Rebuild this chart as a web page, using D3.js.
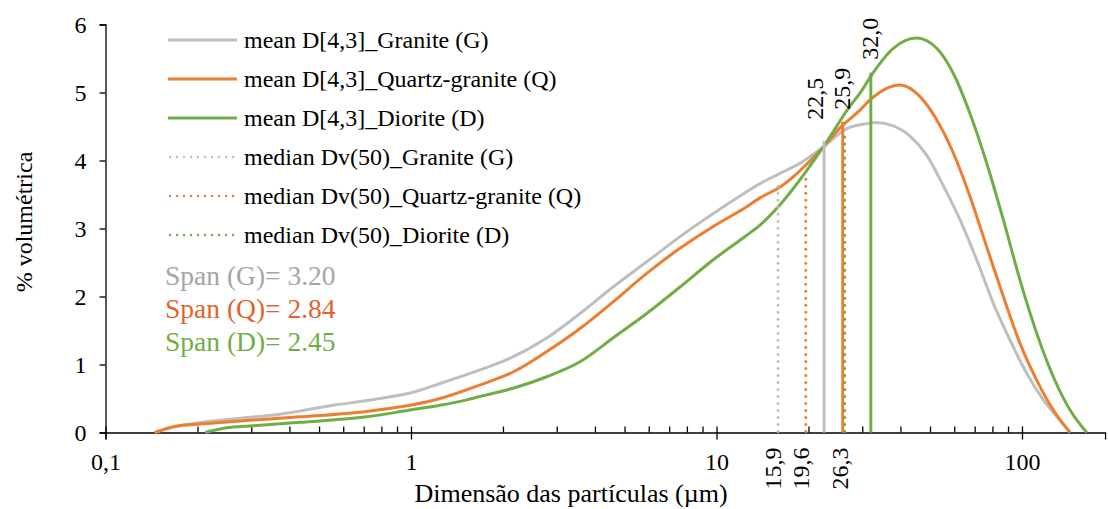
<!DOCTYPE html>
<html>
<head>
<meta charset="utf-8">
<script src="https://cdn.jsdelivr.net/npm/d3@7"></script>
<style>
  body { margin: 0; background: #fff; }
  svg { display: block; font-family: "Liberation Serif", "Times New Roman", serif; }
</style>
</head>
<body>
<svg id="chart" width="1108" height="509"></svg>
<script>
// Particle size distributions: size (µm) and volume %, one pair of arrays per rock
const sizesG = [0.145, 0.171, 0.199, 0.276, 0.373, 0.556, 0.792, 0.992, 1.244, 1.682, 2.058, 2.782, 3.575, 4.584, 5.909, 7.595, 9.76, 12.56, 13.88, 16.14, 18.76, 22.37, 26.7, 31.02, 33.02, 37.91, 42.99, 48.75, 55.26, 62.66, 71.06, 80.56, 91.34, 103.6, 117.4, 133.1, 143.6];
const valuesG = [0, 0.09, 0.14, 0.21, 0.27, 0.40, 0.50, 0.58, 0.72, 0.92, 1.07, 1.39, 1.75, 2.14, 2.51, 2.88, 3.22, 3.54, 3.66, 3.81, 3.96, 4.20, 4.47, 4.54, 4.56, 4.51, 4.36, 4.08, 3.63, 3.13, 2.54, 1.90, 1.36, 0.87, 0.48, 0.18, 0];

const sizesQ = [0.145, 0.171, 0.199, 0.276, 0.433, 0.716, 0.992, 1.244, 1.682, 2.158, 2.782, 3.575, 4.584, 5.909, 7.595, 9.76, 12.56, 13.88, 16.14, 22.37, 25.37, 29.49, 31.80, 39.87, 46.36, 52.58, 59.60, 67.57, 76.64, 86.87, 98.51, 111.7, 126.6, 143.6];
const valuesQ = [0, 0.095, 0.12, 0.17, 0.23, 0.31, 0.40, 0.50, 0.70, 0.89, 1.19, 1.53, 1.92, 2.34, 2.71, 3.03, 3.32, 3.45, 3.61, 4.20, 4.48, 4.74, 4.89, 5.11, 4.94, 4.60, 4.11, 3.47, 2.73, 2.00, 1.31, 0.77, 0.33, 0];

const sizesD = [0.212, 0.249, 0.297, 0.433, 0.716, 0.992, 1.244, 1.522, 1.682, 2.158, 2.782, 3.575, 4.584, 5.909, 7.595, 9.76, 12.56, 13.88, 16.14, 22.37, 27.35, 29.49, 32.21, 37.91, 45.21, 52.58, 59.60, 67.57, 76.64, 86.87, 98.51, 111.7, 126.6, 143.6, 162.9];
const valuesD = [0, 0.07, 0.095, 0.15, 0.23, 0.33, 0.40, 0.48, 0.53, 0.65, 0.82, 1.04, 1.39, 1.75, 2.14, 2.54, 2.90, 3.05, 3.35, 4.20, 4.80, 4.99, 5.26, 5.65, 5.80, 5.65, 5.28, 4.69, 3.96, 3.13, 2.24, 1.46, 0.82, 0.33, 0];

// Mean D[4,3] and median Dv(50) markers (µm) with the height each line reaches
const meanSizes = [22.5, 25.9, 32.0];
const meanTops = [4.29, 4.57, 5.29];
const meanLabels = ["22,5", "25,9", "32,0"];
const medianSizes = [15.9, 19.6, 26.3];
const medianTops = [3.71, 3.74, 4.35];
const medianLabels = ["15,9", "19,6", "26,3"];

const rockNames = ["Granite (G)", "Quartz-granite (Q)", "Diorite (D)"];
const spanLabels = ["Span (G)= 3.20", "Span (Q)= 2.84", "Span (D)= 2.45"];

const xTickValues = [0.1, 1, 10, 100];
const xTickLabels = ["0,1", "1", "10", "100"];
const yTickValues = [0, 1, 2, 3, 4, 5, 6];

const lineColors = ["#BFBFBF", "#ED7D31", "#70AD47"];
const spanColors = ["#A5A5A5", "#E4622A", "#70AD47"];

const FONT = "Liberation Serif, Times New Roman, serif";
const svg = d3.select("#chart");
const axisEnd = 187; // right end of the size axis, µm
const decade = 305.5;
const x = d3.scaleLog().domain([0.1, axisEnd]).range([105.5, 105.5 + decade * Math.log10(axisEnd / 0.1)]);
const y = d3.scaleLinear().domain([0, 6]).range([432.5, 24.5]);

// minor ticks (2..9 in each decade), pointing into the plot
const minorTicks = [];
[0.1, 1, 10, 100].forEach(base => {
  for (let k = 2; k <= 9; k++) {
    const v = base * k;
    if (v < axisEnd) minorTicks.push(v);
  }
});

const xMinor = svg.append("g").attr("transform", `translate(0,${y(0)})`)
  .call(d3.axisBottom(x).tickValues(minorTicks).tickSize(-6).tickFormat(""));
xMinor.select(".domain").remove();
xMinor.selectAll("line").attr("stroke", "#000").attr("stroke-width", 1.3);

// major x ticks cross the axis
const xMajor = svg.append("g").attr("transform", `translate(0,${y(0)})`);
xMajor.call(d3.axisBottom(x).tickValues(xTickValues).tickSize(7).tickPadding(13)
  .tickFormat((d, i) => xTickLabels[i]));
xMajor.select(".domain").attr("stroke", "#000").attr("stroke-width", 1.3);
xMajor.selectAll(".tick line").attr("y1", -6).attr("stroke", "#000").attr("stroke-width", 1.3);
xMajor.selectAll("text").attr("font-size", 24).attr("fill", "#000").attr("font-family", FONT);

const yAxis = svg.append("g").attr("transform", `translate(${x(0.1)},0)`)
  .call(d3.axisLeft(y).tickValues(yTickValues).tickSize(6).tickPadding(13).tickFormat(d3.format("d")));
yAxis.select(".domain").attr("stroke", "#000").attr("stroke-width", 1.3);
yAxis.selectAll(".tick line").attr("stroke", "#000").attr("stroke-width", 1.3);
yAxis.selectAll("text").attr("font-size", 24).attr("fill", "#000").attr("font-family", FONT);

// distribution curves
const curve = d3.line().x(d => x(d[0])).y(d => y(d[1])).curve(d3.curveMonotoneX);
const series = [
  d3.zip(sizesG, valuesG),
  d3.zip(sizesQ, valuesQ),
  d3.zip(sizesD, valuesD)
];
series.forEach((pts, i) => {
  svg.append("path").datum(pts).attr("d", curve)
    .attr("fill", "none").attr("stroke", lineColors[i]).attr("stroke-width", 3)
    .attr("stroke-linejoin", "round");
});

// mean D[4,3] lines (solid)
meanSizes.forEach((s, i) => {
  svg.append("line")
    .attr("x1", x(s)).attr("x2", x(s)).attr("y1", y(0)).attr("y2", y(meanTops[i]))
    .attr("stroke", lineColors[i]).attr("stroke-width", 3);
});
// median Dv(50) lines (round dots)
medianSizes.forEach((s, i) => {
  svg.append("line")
    .attr("x1", x(s)).attr("x2", x(s)).attr("y1", y(0) - 1).attr("y2", y(medianTops[i]))
    .attr("stroke", lineColors[i]).attr("stroke-width", 3)
    .attr("stroke-dasharray", "0.01 7").attr("stroke-linecap", "round");
});

// value labels, rotated
const meanLabelShift = [-1, 7, 7];
const meanLabelGap = [21, 12, 13];
meanSizes.forEach((s, i) => {
  const px = x(s) + meanLabelShift[i], py = y(meanTops[i]) - meanLabelGap[i];
  svg.append("text").attr("transform", `translate(${px},${py}) rotate(-90)`)
    .attr("font-size", 24).attr("fill", "#000").text(meanLabels[i]);
});
medianSizes.forEach((s, i) => {
  const px = x(s) + 3, py = y(0) + 15;
  svg.append("text").attr("transform", `translate(${px},${py}) rotate(-90)`)
    .attr("text-anchor", "end").attr("font-size", 24).attr("fill", "#000").text(medianLabels[i]);
});

// legend
const legend = svg.append("g").attr("transform", "translate(168,40)");
const legendRows = [];
rockNames.forEach((n, i) => legendRows.push({ label: "mean D[4,3]_" + n, color: lineColors[i], dotted: false }));
rockNames.forEach((n, i) => legendRows.push({ label: "median Dv(50)_" + n, color: lineColors[i], dotted: true }));
legendRows.forEach((r, i) => {
  const g = legend.append("g").attr("transform", `translate(0,${i * 39})`);
  g.append("line").attr("x1", r.dotted ? 2 : 0).attr("x2", 69).attr("y1", 0).attr("y2", 0)
    .attr("stroke", r.color).attr("stroke-width", r.dotted ? 2.5 : 3)
    .attr("stroke-dasharray", r.dotted ? "0.01 7" : null)
    .attr("stroke-linecap", r.dotted ? "round" : "butt");
  g.append("text").attr("x", 76).attr("y", 8).attr("font-size", 24).attr("fill", "#000").text(r.label);
});

// span values
spanLabels.forEach((t, i) => {
  svg.append("text").attr("x", 165).attr("y", 285 + i * 33)
    .attr("font-size", 27.5).attr("fill", spanColors[i]).text(t);
});

// axis titles
svg.append("text").attr("x", 571).attr("y", 502).attr("text-anchor", "middle")
  .attr("font-size", 26).attr("fill", "#000").text("Dimensão das partículas (µm)");
svg.append("text").attr("transform", "translate(32,222) rotate(-90)").attr("text-anchor", "middle")
  .attr("font-size", 24).attr("fill", "#000").text("% volumétrica");
</script>
</body>
</html>
